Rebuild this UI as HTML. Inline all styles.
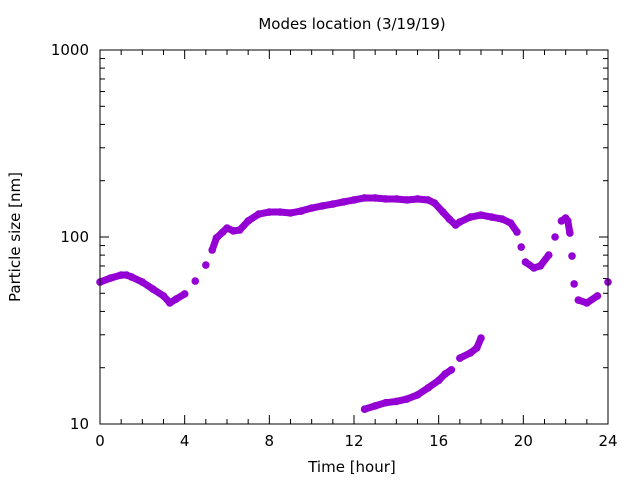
<!DOCTYPE html>
<html><head><meta charset="utf-8"><style>
html,body{margin:0;padding:0;background:#fff;}
svg{display:block;font-family:"DejaVu Sans","Liberation Sans",sans-serif;}
</style></head><body>
<svg id="chart" width="640" height="480" viewBox="0 0 640 480" xmlns="http://www.w3.org/2000/svg">
<rect width="640" height="480" fill="#fff"/>
<text x="352" y="29" font-size="15" text-anchor="middle">Modes location (3/19/19)</text>
<text x="352" y="472" font-size="15" text-anchor="middle">Time [hour]</text>
<text transform="translate(20,237) rotate(-90)" font-size="15" text-anchor="middle">Particle size [nm]</text>
<g id="axes"></g>
<g id="series"></g>
<rect x="100" y="50" width="508" height="374" fill="none" stroke="#000" stroke-width="1"/>
</svg>
<script>
const xTicks=[0,4,8,12,16,20,24];
const yTicks=[10,100,1000];
const upperT=[0,0.5,1,1.25,1.5,2,2.5,3,3.3,3.6,4,4.5,5,5.3,5.5,5.8,6,6.3,6.6,7,7.5,8,8.5,9,9.5,10,10.5,11,11.5,12,12.5,13,13.5,14,14.5,15,15.5,15.8,16.2,16.5,16.8,17,17.5,18,18.5,19,19.4,19.7,19.9,20.1,20.5,20.8,21.2,21.5,21.8,22,22.1,22.2,22.3,22.4,22.6,23,23.5,24];
const upperV=[57.4,60.3,62.6,62.6,61.1,57.4,52.7,48.4,44.4,46.6,49.6,58.1,70.8,85.2,98.8,106.3,111.7,107.7,109,121.8,132.7,136,136,134.4,137.7,142.9,146.5,150.1,153.9,157.8,161.7,161.7,159.7,159.7,157.8,159.7,157.8,152,136,124.8,115.9,120.3,127.9,131.1,127.9,124.8,118.8,106.3,88.4,73.5,68.3,70,80.1,100,121.8,126.3,121.8,105,79.1,56.1,46,44.4,48.4,57.4];
const lowerT=[12.5,13,13.5,14,14.5,15,15.5,16,16.3,16.6,17,17.5,17.8,18];
const lowerV=[12.0,12.5,13.0,13.2,13.6,14.3,15.6,17.1,18.5,19.5,22.5,24.0,25.5,28.8];

const X0=100,X1=608,Y0=424,Y1=50;
const xs=t=>X0+(t-0)/(24-0)*(X1-X0);
const ys=v=>Y0-(Math.log10(v)-1)/(3-1)*(Y0-Y1);
const NS="http://www.w3.org/2000/svg";
const axes=document.getElementById('axes');
function line(x1,y1,x2,y2,name){const l=document.createElementNS(NS,'line');l.setAttribute('x1',x1);l.setAttribute('y1',y1);l.setAttribute('x2',x2);l.setAttribute('y2',y2);l.setAttribute('stroke','#000');l.setAttribute('stroke-width','1');


axes.appendChild(l);}
function text(x,y,s,anchor,name){const t=document.createElementNS(NS,'text');t.setAttribute('x',x);t.setAttribute('y',y);t.setAttribute('font-size','15');t.setAttribute('text-anchor',anchor);t.textContent=s;


axes.appendChild(t);}
for(let h=0;h<=24;h++){const x=xs(h);const major=xTicks.includes(h);const L=major?9:5;
line(x,Y0,x,Y0-L,'x-tick');line(x,Y1,x,Y1+L,'x-tick-top');}
xTicks.forEach(t=>text(xs(t),446,String(t),'middle','x-tick-label'));
for(let d=10;d<1000;d*=10){for(let m=2;m<=9;m++){const y=ys(d*m);line(X0,y,X0+5,y,'y-minor-tick');line(X1,y,X1-5,y,'y-minor-tick-right');}}
yTicks.forEach(v=>{const y=ys(v);line(X0,y,X0+9,y,'y-tick');line(X1,y,X1-9,y,'y-tick-right');text(89,y+5,String(v),'end','y-tick-label');});
const series=document.getElementById('series');
function draw(T,V,name){
 for(let i=0;i<T.length-1;i++){
  const x1=xs(T[i]),y1=ys(V[i]),x2=xs(T[i+1]),y2=ys(V[i+1]);
  if(Math.hypot(x2-x1,y2-y1)>14) continue;
  const l=document.createElementNS(NS,'line');
  l.setAttribute('x1',x1);l.setAttribute('y1',y1);l.setAttribute('x2',x2);l.setAttribute('y2',y2);
  l.setAttribute('stroke','#9400d3');l.setAttribute('stroke-width','7');l.setAttribute('stroke-linecap','round');
  
  
  series.appendChild(l);
 }
 T.forEach((t,i)=>{const c=document.createElementNS(NS,'circle');c.setAttribute('cx',xs(t));c.setAttribute('cy',ys(V[i]));c.setAttribute('r','3.8');c.setAttribute('fill','#9400d3');
 
 
 series.appendChild(c);});
}
draw(upperT,upperV,'upper-mode');
draw(lowerT,lowerV,'lower-mode');
</script>
</body></html>
